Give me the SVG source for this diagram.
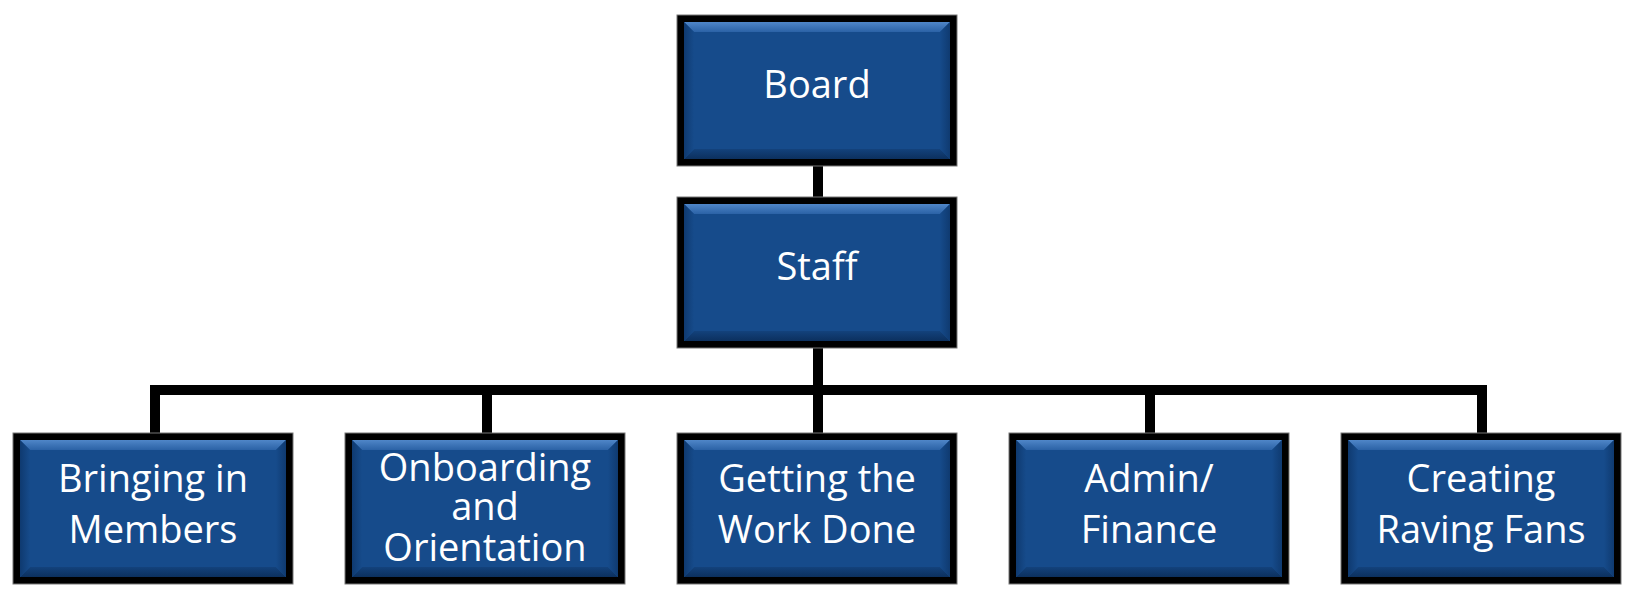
<svg xmlns="http://www.w3.org/2000/svg" width="1637" height="600" viewBox="0 0 1637 600">
<style>
.t{font-family:"Open Sans","Noto Sans","Liberation Sans",sans-serif;font-size:38px;fill:#ffffff;text-anchor:middle}
.c{stroke:#000;stroke-width:10;fill:none;stroke-linecap:square}
</style>
<defs>
<linearGradient id="gTop" x1="0" y1="0" x2="0" y2="1"><stop offset="0" stop-color="#4f86c8"/><stop offset="1" stop-color="#2b62a6"/></linearGradient>
<linearGradient id="gBot" x1="0" y1="0" x2="0" y2="1"><stop offset="0" stop-color="#13427c"/><stop offset="1" stop-color="#0c305e"/></linearGradient>
<linearGradient id="gL" x1="0" y1="0" x2="1" y2="0"><stop offset="0" stop-color="#0f3a70"/><stop offset="1" stop-color="#164b8b"/></linearGradient>
<linearGradient id="gR" x1="0" y1="0" x2="1" y2="0"><stop offset="0" stop-color="#164b8b"/><stop offset="1" stop-color="#0f3a70"/></linearGradient>
<g id="box">
<rect x="0" y="0" width="280" height="151" fill="#000" stroke="#777" stroke-width="1"/>
<rect x="7" y="7" width="266" height="137" fill="#164b8b"/>
<polygon points="7,7 273,7 263,17 17,17" fill="url(#gTop)"/>
<polygon points="7,144 273,144 263,134 17,134" fill="url(#gBot)"/>
<polygon points="7,7 17,17 17,134 7,144" fill="url(#gL)"/>
<polygon points="273,7 263,17 263,134 273,144" fill="url(#gR)"/>
</g>
</defs>
<g id="connectors">
<line class="c" x1="818" y1="165" x2="818" y2="197"/>
<line class="c" x1="818" y1="348" x2="818" y2="433"/>
<line class="c" x1="155" y1="390" x2="1482" y2="390"/>
<line class="c" x1="155" y1="390" x2="155" y2="433"/>
<line class="c" x1="487" y1="390" x2="487" y2="433"/>
<line class="c" x1="1150" y1="390" x2="1150" y2="433"/>
<line class="c" x1="1482" y1="390" x2="1482" y2="433"/>
</g>
<g id="board"><use href="#box" x="677" y="15"/><text class="t" x="817" y="98">Board</text></g>
<g id="staff"><use href="#box" x="677" y="197"/><text class="t" x="817" y="280">Staff</text></g>
<g id="bringing"><use href="#box" x="13" y="433"/><text class="t" x="153" y="492">Bringing in</text><text class="t" x="153" y="543">Members</text></g>
<g id="onboarding"><use href="#box" x="345" y="433"/><text class="t" x="485" y="481">Onboarding</text><text class="t" x="485" y="520">and</text><text class="t" x="485" y="561">Orientation</text></g>
<g id="work"><use href="#box" x="677" y="433"/><text class="t" x="817" y="492">Getting the</text><text class="t" x="817" y="543">Work Done</text></g>
<g id="admin"><use href="#box" x="1009" y="433"/><text class="t" x="1149" y="492">Admin/</text><text class="t" x="1149" y="543">Finance</text></g>
<g id="fans"><use href="#box" x="1341" y="433"/><text class="t" x="1481" y="492">Creating</text><text class="t" x="1481" y="543">Raving Fans</text></g>
</svg>
